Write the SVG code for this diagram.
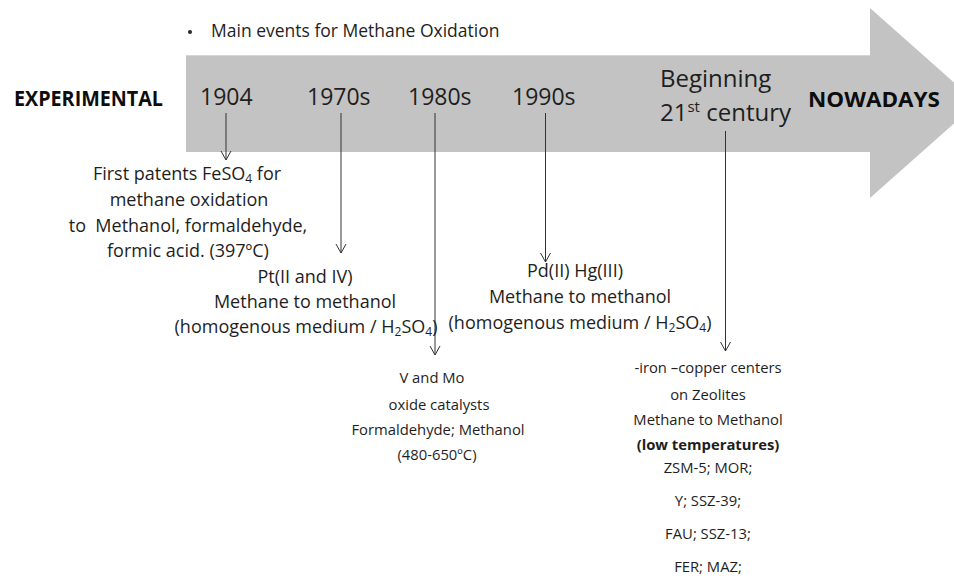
<svg xmlns="http://www.w3.org/2000/svg" width="954" height="588" viewBox="0 0 954 588">
<style>
text{font-family:"Open Sans","Noto Sans","Liberation Sans",sans-serif;fill:#1e1e1e;}
.t{font-size:17.5px;}
.yr{font-size:23px;}
.yw{font-size:24px;}
.bold{font-weight:bold;fill:#0d0d0d;font-size:20.5px;}
.b16{font-size:18px;text-anchor:middle;}
.b14{font-size:14.8px;text-anchor:middle;}
.sub{font-size:12px;}
.conn{stroke:#333;stroke-width:1;fill:none;marker-end:url(#v);}
</style>
<defs>
<marker id="v" viewBox="-1 -6 11 12" refX="9" refY="0" markerWidth="11" markerHeight="12" markerUnits="userSpaceOnUse" orient="auto">
<path d="M0,-5 L9,0 L0,5" fill="none" stroke="#333" stroke-width="1"/>
</marker>
</defs>
<rect width="954" height="588" fill="#fff"/>
<g id="timeline">
<polygon points="186,55 870,55 870,8 977,103 870,198 870,152 186,152" fill="#c3c3c3"/>
<line x1="186" y1="55.5" x2="870" y2="55.5" stroke="#d6d6d6" stroke-width="1"/>
</g>
<g id="title">
<circle cx="190" cy="32" r="2" fill="#262626"/>
<text class="t" x="211" y="37">Main events for Methane Oxidation</text>
</g>
<g id="experimental"><text class="bold" x="14" y="106" textLength="149" lengthAdjust="spacingAndGlyphs">EXPERIMENTAL</text></g>
<g id="nowadays"><text class="bold" x="808" y="107" textLength="132" lengthAdjust="spacingAndGlyphs">NOWADAYS</text></g>
<g id="y1904"><text class="yr" x="200" y="105">1904</text></g>
<g id="y1970"><text class="yr" x="307" y="105">1970s</text></g>
<g id="y1980"><text class="yr" x="408" y="105">1980s</text></g>
<g id="y1990"><text class="yr" x="512" y="105">1990s</text></g>
<g id="y21">
<text class="yw" x="660" y="87">Beginning</text>
<text class="yw" x="660" y="121">21<tspan font-size="15" baseline-shift="9">st</tspan> century</text>
</g>
<g id="connectors">
<line class="conn" x1="226" y1="113" x2="226" y2="160"/>
<line class="conn" x1="341" y1="113" x2="341" y2="253"/>
<line class="conn" x1="435" y1="113" x2="435" y2="355"/>
<line class="conn" x1="545.5" y1="113" x2="545.5" y2="262"/>
<line class="conn" x1="725.5" y1="131" x2="725.5" y2="351"/>
</g>
<g id="ev1904">
<text class="b16" x="187" y="180">First patents FeSO<tspan class="sub" baseline-shift="-3">4</tspan> for</text>
<text class="b16" x="189" y="206">methane oxidation</text>
<text class="b16" x="188" y="232" xml:space="preserve">to  Methanol, formaldehyde,</text>
<text class="b16" x="188" y="257">formic acid. (397ºC)</text>
</g>
<g id="ev1970">
<text class="b16" x="305" y="283">Pt(II and IV)</text>
<text class="b16" x="305" y="308">Methane to methanol</text>
<text class="b16" x="306" y="333">(homogenous medium / H<tspan class="sub" baseline-shift="-3">2</tspan>SO<tspan class="sub" baseline-shift="-3">4</tspan>)</text>
</g>
<g id="ev1990">
<text class="b16" x="575" y="277">Pd(II) Hg(III)</text>
<text class="b16" x="580" y="303">Methane to methanol</text>
<text class="b16" x="580" y="329">(homogenous medium / H<tspan class="sub" baseline-shift="-3">2</tspan>SO<tspan class="sub" baseline-shift="-3">4</tspan>)</text>
</g>
<g id="ev1980">
<text class="b14" x="432" y="383">V and Mo</text>
<text class="b14" x="439" y="410">oxide catalysts</text>
<text class="b14" x="438" y="435">Formaldehyde; Methanol</text>
<text class="b14" x="437" y="460">(480-650ºC)</text>
</g>
<g id="ev21">
<text class="b14" x="708" y="373">-iron –copper centers</text>
<text class="b14" x="708" y="400">on Zeolites</text>
<text class="b14" x="708" y="425">Methane to Methanol</text>
<text class="b14" x="708" y="450" font-weight="bold" fill="#0d0d0d">(low temperatures)</text>
<text class="b14" x="708" y="473">ZSM-5; MOR;</text>
<text class="b14" x="708" y="506">Y; SSZ-39;</text>
<text class="b14" x="708" y="539">FAU; SSZ-13;</text>
<text class="b14" x="708" y="572">FER; MAZ;</text>
</g>
</svg>
